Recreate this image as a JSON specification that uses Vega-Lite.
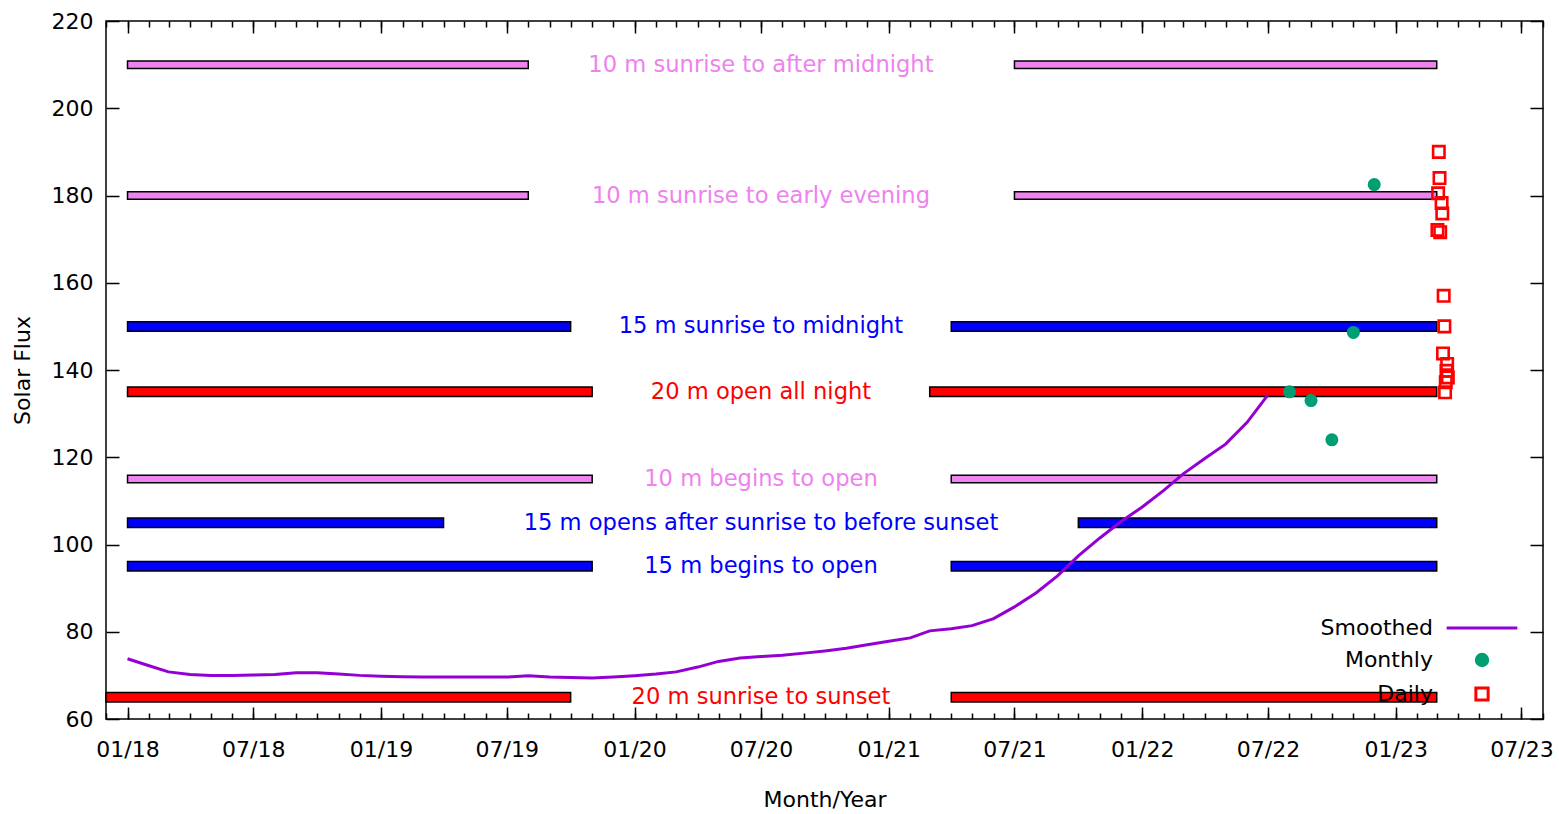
{
  "$schema": "https://vega.github.io/schema/vega-lite/v6.json",
  "width": 1437,
  "height": 698,
  "autosize": {"type": "none"},
  "padding": {"left": 106, "top": 21, "right": 16, "bottom": 95},
  "background": "white",
  "datasets": {
    "bars": [
      {"band": "10 m", "value": 210, "start": "2018-01-01", "end": "2019-08-01"},
      {"band": "10 m", "value": 210, "start": "2021-07-01", "end": "2023-03-01"},
      {"band": "10 m", "value": 180, "start": "2018-01-01", "end": "2019-08-01"},
      {"band": "10 m", "value": 180, "start": "2021-07-01", "end": "2023-03-01"},
      {"band": "15 m", "value": 150, "start": "2018-01-01", "end": "2019-10-01"},
      {"band": "15 m", "value": 150, "start": "2021-04-01", "end": "2023-03-01"},
      {"band": "20 m", "value": 135, "start": "2018-01-01", "end": "2019-11-01"},
      {"band": "20 m", "value": 135, "start": "2021-03-01", "end": "2023-03-01"},
      {"band": "10 m", "value": 115, "start": "2018-01-01", "end": "2019-11-01"},
      {"band": "10 m", "value": 115, "start": "2021-04-01", "end": "2023-03-01"},
      {"band": "15 m", "value": 105, "start": "2018-01-01", "end": "2019-04-01"},
      {"band": "15 m", "value": 105, "start": "2021-10-01", "end": "2023-03-01"},
      {"band": "15 m", "value": 95, "start": "2018-01-01", "end": "2019-11-01"},
      {"band": "15 m", "value": 95, "start": "2021-04-01", "end": "2023-03-01"},
      {"band": "20 m", "value": 65, "start": "2017-12-01", "end": "2019-10-01"},
      {"band": "20 m", "value": 65, "start": "2021-04-01", "end": "2023-03-01"}
    ],
    "labels": [
      {"band": "10 m", "value": 210, "date": "2020-07-01", "text": "10 m sunrise to after midnight"},
      {"band": "10 m", "value": 180, "date": "2020-07-01", "text": "10 m sunrise to early evening"},
      {"band": "15 m", "value": 150, "date": "2020-07-01", "text": "15 m sunrise to midnight"},
      {"band": "20 m", "value": 135, "date": "2020-07-01", "text": "20 m open all night"},
      {"band": "10 m", "value": 115, "date": "2020-07-01", "text": "10 m begins to open"},
      {"band": "15 m", "value": 105, "date": "2020-07-01", "text": "15 m opens after sunrise to before sunset"},
      {"band": "15 m", "value": 95, "date": "2020-07-01", "text": "15 m begins to open"},
      {"band": "20 m", "value": 65, "date": "2020-07-01", "text": "20 m sunrise to sunset"}
    ],
    "smoothed": [
      {"date": "2018-01-01", "value": 73.8},
      {"date": "2018-02-01", "value": 72.2},
      {"date": "2018-03-01", "value": 70.8},
      {"date": "2018-04-01", "value": 70.2},
      {"date": "2018-05-01", "value": 70.0},
      {"date": "2018-06-01", "value": 70.0},
      {"date": "2018-07-01", "value": 70.1},
      {"date": "2018-08-01", "value": 70.2},
      {"date": "2018-09-01", "value": 70.6},
      {"date": "2018-10-01", "value": 70.6},
      {"date": "2018-11-01", "value": 70.3},
      {"date": "2018-12-01", "value": 70.0},
      {"date": "2019-01-01", "value": 69.8},
      {"date": "2019-02-01", "value": 69.7},
      {"date": "2019-03-01", "value": 69.6},
      {"date": "2019-04-01", "value": 69.6},
      {"date": "2019-05-01", "value": 69.6},
      {"date": "2019-06-01", "value": 69.6},
      {"date": "2019-07-01", "value": 69.6},
      {"date": "2019-08-01", "value": 69.9},
      {"date": "2019-09-01", "value": 69.6},
      {"date": "2019-10-01", "value": 69.5},
      {"date": "2019-11-01", "value": 69.4},
      {"date": "2019-12-01", "value": 69.6},
      {"date": "2020-01-01", "value": 69.9},
      {"date": "2020-02-01", "value": 70.3},
      {"date": "2020-03-01", "value": 70.8},
      {"date": "2020-04-01", "value": 71.9},
      {"date": "2020-05-01", "value": 73.2},
      {"date": "2020-06-01", "value": 74.0},
      {"date": "2020-07-01", "value": 74.3},
      {"date": "2020-08-01", "value": 74.6},
      {"date": "2020-09-01", "value": 75.1},
      {"date": "2020-10-01", "value": 75.6},
      {"date": "2020-11-01", "value": 76.2},
      {"date": "2020-12-01", "value": 77.0},
      {"date": "2021-01-01", "value": 77.8},
      {"date": "2021-02-01", "value": 78.6},
      {"date": "2021-03-01", "value": 80.2},
      {"date": "2021-04-01", "value": 80.7},
      {"date": "2021-05-01", "value": 81.4},
      {"date": "2021-06-01", "value": 83.0},
      {"date": "2021-07-01", "value": 85.7},
      {"date": "2021-08-01", "value": 88.9},
      {"date": "2021-09-01", "value": 92.8},
      {"date": "2021-10-01", "value": 97.4},
      {"date": "2021-11-01", "value": 101.5},
      {"date": "2021-12-01", "value": 105.2},
      {"date": "2022-01-01", "value": 108.6},
      {"date": "2022-02-01", "value": 112.4},
      {"date": "2022-03-01", "value": 116.2},
      {"date": "2022-04-01", "value": 119.7},
      {"date": "2022-05-01", "value": 123.0},
      {"date": "2022-06-01", "value": 128.0},
      {"date": "2022-07-01", "value": 134.3}
    ],
    "monthly": [
      {"series": "Monthly", "date": "2022-08-01", "value": 135.0},
      {"series": "Monthly", "date": "2022-09-01", "value": 133.0},
      {"series": "Monthly", "date": "2022-10-01", "value": 124.0},
      {"series": "Monthly", "date": "2022-11-01", "value": 148.6},
      {"series": "Monthly", "date": "2022-12-01", "value": 182.5}
    ],
    "daily": [
      {"date": "2023-03-02", "value": 172.1},
      {"date": "2023-03-03", "value": 180.5},
      {"date": "2023-03-04", "value": 190.0},
      {"date": "2023-03-05", "value": 184.0},
      {"date": "2023-03-06", "value": 171.6},
      {"date": "2023-03-08", "value": 178.3},
      {"date": "2023-03-09", "value": 175.9},
      {"date": "2023-03-10", "value": 143.8},
      {"date": "2023-03-11", "value": 157.0},
      {"date": "2023-03-12", "value": 150.0},
      {"date": "2023-03-13", "value": 134.9},
      {"date": "2023-03-14", "value": 137.2},
      {"date": "2023-03-15", "value": 139.8},
      {"date": "2023-03-16", "value": 141.4},
      {"date": "2023-03-17", "value": 138.3}
    ]
  },
  "resolve": {"axis": {"x": "independent", "y": "independent"}},
  "layer": [
    {
      "data": {"name": "monthly"},
      "mark": {"type": "point", "filled": true, "opacity": 0},
      "encoding": {
        "x": {"field": "date", "type": "temporal", "axis": null,
          "scale": {"type": "utc", "domain": [1512086400000, 1690848000000], "nice": false}},
        "y": {"field": "value", "type": "quantitative", "axis": null,
          "scale": {"domain": [60, 220], "nice": false, "zero": false, "padding": 0}},
        "color": {"field": "series", "type": "nominal",
          "scale": {"domain": ["Smoothed", "Monthly", "Daily"], "range": ["transparent", "#009e73", "transparent"]},
          "legend": {"orient": "none", "legendX": 1339, "legendY": 570, "title": null, "columns": 1, "labelOffset": -86, "labelAlign": "right", "rowPadding": 9}},
        "stroke": {"field": "series", "type": "nominal",
          "scale": {"domain": ["Smoothed", "Monthly", "Daily"], "range": ["#9400d3", "#009e73", "#ff0000"]},
          "legend": {"orient": "none", "legendX": 1339, "legendY": 570, "title": null, "columns": 1, "labelOffset": -86, "labelAlign": "right", "rowPadding": 9}},
        "shape": {"field": "series", "type": "nominal",
          "scale": {"domain": ["Smoothed", "Monthly", "Daily"], "range": ["stroke", "circle", "square"]},
          "legend": {"orient": "none", "legendX": 1339, "legendY": 570, "title": null, "columns": 1, "labelOffset": -86, "labelAlign": "right", "rowPadding": 9}},
        "size": {"field": "series", "type": "nominal",
          "scale": {"type": "ordinal", "domain": ["Smoothed", "Monthly", "Daily"], "range": [5000, 130, 150]},
          "legend": {"orient": "none", "legendX": 1339, "legendY": 570, "title": null, "columns": 1, "labelOffset": -86, "labelAlign": "right", "rowPadding": 9}}
      }
    },
    {
      "data": {"name": "bars"},
      "transform": [{"filter": {"field": "band", "equal": "10 m"}}],
      "mark": {"type": "bar", "orient": "horizontal", "size": 7.5, "stroke": "#000", "strokeWidth": 1.5},
      "encoding": {
        "x": {"field": "start", "type": "temporal",
          "axis": {"orient": "bottom", "title": "Month/Year", "format": "%m/%y",
            "tickCount": {"interval": "month", "step": 6}, "tickSize": -12,
            "labelPadding": 32, "titlePadding": 29, "labelFlush": false, "labelOverlap": false}},
        "x2": {"field": "end"},
        "y": {"field": "value", "type": "quantitative",
          "axis": {"orient": "left", "title": "Solar Flux", "values": [60, 80, 100, 120, 140, 160, 180, 200, 220],
            "tickSize": -13, "labelPadding": 26, "titlePadding": 17}},
        "fill": {"field": "band", "type": "nominal",
          "scale": {"domain": ["10 m", "15 m", "20 m"], "range": ["#ee82ee", "#0000ff", "#ff0000"]},
          "legend": null}
      }
    },
    {
      "data": {"name": "bars"},
      "transform": [{"filter": {"field": "band", "oneOf": ["15 m", "20 m"]}}],
      "mark": {"type": "bar", "orient": "horizontal", "size": 9.5, "stroke": "#000", "strokeWidth": 1.5},
      "encoding": {
        "x": {"field": "start", "type": "temporal",
          "axis": {"orient": "bottom", "title": null, "labels": false,
            "tickCount": {"interval": "month", "step": 1}, "tickSize": -6}},
        "x2": {"field": "end"},
        "y": {"field": "value", "type": "quantitative",
          "axis": {"orient": "right", "title": null, "labels": false,
            "values": [60, 80, 100, 120, 140, 160, 180, 200, 220], "tickSize": -13}},
        "fill": {"field": "band", "type": "nominal", "legend": null}
      }
    },
    {
      "data": {"name": "labels"},
      "mark": {"type": "text", "font": "DejaVu Sans", "fontSize": 22.6, "align": "center", "baseline": "middle"},
      "encoding": {
        "x": {"field": "date", "type": "temporal",
          "axis": {"orient": "top", "title": null, "labels": false,
            "tickCount": {"interval": "month", "step": 6}, "tickSize": -12}},
        "y": {"field": "value", "type": "quantitative", "axis": null},
        "text": {"field": "text"},
        "fill": {"field": "band", "type": "nominal", "legend": null}
      }
    },
    {
      "data": {"name": "smoothed"},
      "mark": {"type": "line", "strokeWidth": 3, "color": "#9400d3"},
      "encoding": {
        "x": {"field": "date", "type": "temporal",
          "axis": {"orient": "top", "title": null, "labels": false,
            "tickCount": {"interval": "month", "step": 1}, "tickSize": -6}},
        "y": {"field": "value", "type": "quantitative", "axis": null}
      }
    },
    {
      "data": {"name": "monthly"},
      "mark": {"type": "point", "shape": "circle", "filled": true, "size": 170, "opacity": 1, "color": "#009e73"},
      "encoding": {
        "x": {"field": "date", "type": "temporal", "axis": null},
        "y": {"field": "value", "type": "quantitative", "axis": null}
      }
    },
    {
      "data": {"name": "daily"},
      "mark": {"type": "point", "shape": "square", "filled": false, "size": 130, "strokeWidth": 2.6, "opacity": 1, "color": "#ff0000"},
      "encoding": {
        "x": {"field": "date", "type": "temporal", "axis": null},
        "y": {"field": "value", "type": "quantitative", "axis": null}
      }
    }
  ],
  "config": {
    "view": {"stroke": "#000", "strokeWidth": 1.5},
    "axis": {
      "domain": false, "grid": false, "tickColor": "#000", "tickWidth": 1.5,
      "labelFont": "DejaVu Sans", "labelFontSize": 22, "labelColor": "#000",
      "titleFont": "DejaVu Sans", "titleFontSize": 22, "titleFontWeight": "normal", "titleColor": "#000"
    },
    "legend": {
      "padding": 0, "labelFont": "DejaVu Sans", "labelFontSize": 22, "labelColor": "#000",
      "labelLimit": 400, "symbolStrokeWidth": 3, "symbolOpacity": 1
    }
  }
}
